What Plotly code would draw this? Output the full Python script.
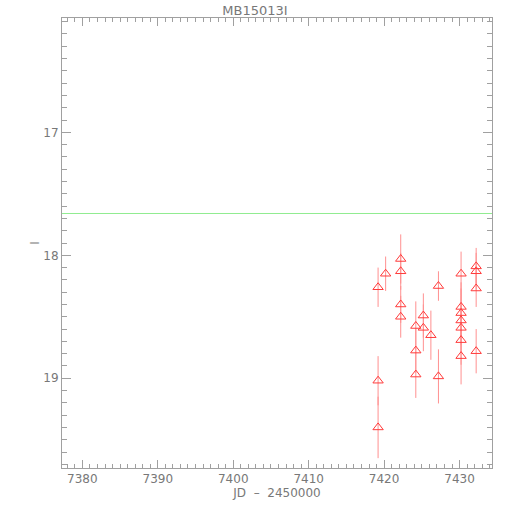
import plotly.graph_objects as go

title = "MB15013I"
jd = [7419.2, 7419.2, 7419.2, 7420.2, 7422.2, 7422.2, 7422.2, 7422.2,
      7424.2, 7424.2, 7424.2, 7425.2, 7425.2, 7426.2, 7427.2, 7427.2,
      7430.2, 7430.2, 7430.2, 7430.2, 7430.2, 7430.2, 7430.2,
      7432.2, 7432.2, 7432.2, 7432.2]
mag = [18.26, 19.02, 19.40, 18.15, 18.03, 18.13, 18.40, 18.50,
       18.575, 18.775, 18.97, 18.49, 18.59, 18.65, 18.25, 18.985,
       18.15, 18.42, 18.47, 18.53, 18.59, 18.69, 18.82,
       18.09, 18.13, 18.27, 18.78]
err = [0.16, 0.20, 0.25, 0.14, 0.20, 0.15, 0.15, 0.17,
       0.20, 0.18, 0.19, 0.18, 0.19, 0.20, 0.12, 0.22,
       0.18, 0.20, 0.20, 0.20, 0.20, 0.20, 0.23,
       0.15, 0.15, 0.15, 0.18]
reference_mag = 17.66
x_range = [7377.3, 7434.3]
y_range = [19.73, 16.07]

gray = "#a0a0a0"
txt = "#787878"

fig = go.Figure()
fig.add_trace(go.Scatter(
    x=x_range, y=[reference_mag, reference_mag], mode="lines",
    line=dict(color="#90ec90", width=1), hoverinfo="skip", showlegend=False))
fig.add_trace(go.Scatter(
    x=jd, y=mag, mode="markers",
    marker=dict(symbol="triangle-up-open", size=9, color="#ff3b3b",
                line=dict(width=1, color="#ff3b3b")),
    error_y=dict(type="data", array=err, visible=True, color="#ff9090",
                 thickness=1, width=0),
    showlegend=False))

axis_common = dict(showgrid=False, zeroline=False, showline=True, linecolor=gray,
                   linewidth=1, mirror="ticks", ticks="inside", tickcolor=gray,
                   tickfont=dict(color=txt, size=12, family="DejaVu Sans"))
fig.update_xaxes(range=x_range, dtick=10, tick0=7380, ticklen=8,
                 minor=dict(dtick=1, ticklen=4, ticks="inside", tickcolor=gray),
                 title=dict(text="JD  \u2013  2450000", font=dict(color=txt, size=12),
                            standoff=2),
                 **axis_common)
fig.update_yaxes(range=y_range, dtick=1, tick0=17, ticklen=9,
                 minor=dict(dtick=0.1, ticklen=5, ticks="inside", tickcolor=gray),
                 title=dict(text="I", font=dict(color=txt, size=12), standoff=1),
                 **axis_common)
fig.update_layout(
    width=510, height=510,
    margin=dict(l=62, r=18, t=18, b=42),
    paper_bgcolor="white", plot_bgcolor="white",
    title=dict(text=title, x=0.5, xanchor="center", y=0.98, yanchor="middle",
               font=dict(color=txt, size=13, family="DejaVu Sans")),
    font=dict(family="DejaVu Sans", color=txt),
)
fig.write_html("out.html", config={"displayModeBar": False},
               post_script="document.body.style.margin='0';")
